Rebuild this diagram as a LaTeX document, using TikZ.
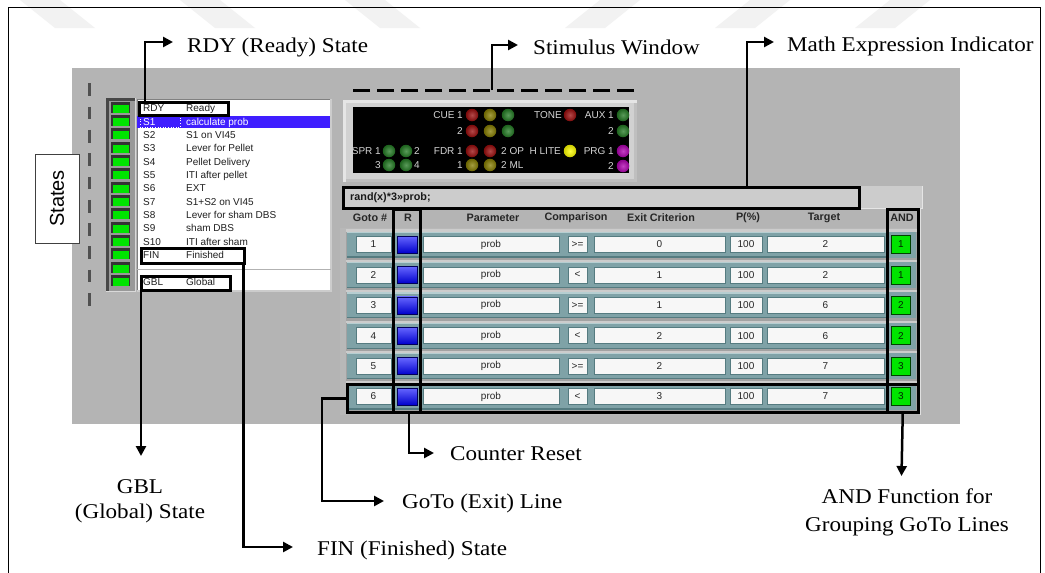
\documentclass[tikz,border=0pt]{standalone}
\usepackage{fontspec}
\setmainfont{Liberation Serif}
\newfontfamily\uifont{Liberation Sans}
\usepackage{graphicx}
\usetikzlibrary{arrows.meta}
\definecolor{panelgray}{HTML}{B4B4B4}
\definecolor{bandgray}{HTML}{A2A2A2}
\definecolor{tealrow}{HTML}{7FA2A7}
\definecolor{tealdark}{HTML}{557B80}
\definecolor{teallight}{HTML}{B6CED1}
\definecolor{selblue}{HTML}{3F1EFF}
\definecolor{ledgreen}{HTML}{00E400}
\definecolor{stimtext}{HTML}{D4D4D4}
\definecolor{dashgray}{HTML}{505050}
\definecolor{ledred}{HTML}{9A0C0C}
\definecolor{ledolive}{HTML}{857C00}
\definecolor{leddkgreen}{HTML}{237A23}
\definecolor{ledmag}{HTML}{B000B0}
\definecolor{ledyellow}{HTML}{FFFF00}
\newcommand\lbltext[1]{\scalebox{1.1}[1]{#1}}
\tikzset{
  conn/.style={line width=2.5pt, -{Triangle[length=10pt,width=10pt]}},
  abox/.style={draw=black, line width=2.5pt, inner sep=0pt, fill=none},
  lbl/.style={font=\fontsize{21}{25}\selectfont, inner sep=0pt},
  ui/.style={font=\uifont\fontsize{10}{12}\selectfont, inner sep=0pt, text=black!88},
  uib/.style={font=\uifont\bfseries\fontsize{10.8}{13}\selectfont, inner sep=0pt, text=black!85},
  stimtxt/.style={font=\uifont\fontsize{10}{12}\selectfont, inner sep=0pt, text=stimtext},
  field/.style={draw=tealdark, line width=0.8pt, fill=white!97!black, inner sep=0pt,
    minimum height=16pt, font=\uifont\fontsize{10}{12}\selectfont, text=black!85},
  rled/.style={draw=blue!35!black, line width=0.6pt, shade, top color=blue!60!white,
    bottom color=blue!80!black, minimum width=20pt, minimum height=17pt, inner sep=0pt},
  andled/.style={draw=green!25!black, line width=0.6pt, fill=ledgreen, minimum width=19pt,
    minimum height=18pt, inner sep=0pt, font=\uifont\fontsize{10}{12}\selectfont, text=green!15!black},
  stimled/.style={circle, inner sep=0pt, minimum size=12.5pt, shade, shading=radial,
    inner color=#1!75!white, outer color=#1!80!black},
  wm/.style={fill=black!5}
}
\begin{document}
\begin{tikzpicture}[x=1pt,y=-1pt]
\useasboundingbox (0,0) rectangle (1045,573);
\fill[white] (0,0) rectangle (1045,573);
% faint watermark
\fill[wm] (20,0) -- (60,0) -- (95,28) -- (55,28) -- cycle;
\fill[wm] (180,0) -- (220,0) -- (255,28) -- (215,28) -- cycle;
\fill[wm] (345,0) -- (385,0) -- (420,28) -- (380,28) -- cycle;
\fill[wm] (600,0) -- (640,0) -- (605,28) -- (565,28) -- cycle;
\fill[wm] (750,0) -- (790,0) -- (755,28) -- (715,28) -- cycle;
\fill[wm] (890,0) -- (930,0) -- (895,28) -- (855,28) -- cycle;
% frame
\draw[line width=1pt] (8,573) -- (8,7) -- (1040,7) -- (1040,573);
% panel
\fill[panelgray] (72,68) rectangle (960,424);
% dashed state line
\draw[dashgray, line width=3pt, dash pattern=on 12.7pt off 10.6pt] (89,83.3) -- (89,307);
% States box
\node[draw=black!75, line width=0.8pt, fill=white, rotate=90, minimum width=89pt,
  minimum height=44pt, inner sep=0pt, font=\uifont\fontsize{20}{24}\selectfont] (states) at (57,198.5) {States};
% LED column
\fill[black!72] (106,98) rectangle (135,291);
\fill[black!40] (109,101) rectangle (135,291);
\draw[black!15, line width=1pt] (106,291) -- (135,291) -- (135,98);
\foreach \k in {0,...,13}{
  \pgfmathsetmacro\ly{108.3+13.33*\k}
  \fill[black!80] (111,{\ly-6.5}) rectangle (130,{\ly+4.5});
  \fill[ledgreen] (113,{\ly-3.5}) rectangle (129,{\ly+4.5});
}
% list box
\fill[white] (137,99) rectangle (331,291);
\draw[black!50, line width=1pt] (137,291) -- (137,99) -- (331,99);
\draw[black!20, line width=1.5pt] (331,99) -- (331,291) -- (137,291);
\draw[black!30, line width=1pt] (137,269) -- (331,269);
\fill[selblue] (137,115.5) rectangle (330,127.9);
\draw[white, dotted, line width=0.6pt] (140,116.2) rectangle (180,127.2);
\foreach \k/\cd/\nm in {0/RDY/Ready, 2/S2/S1 on VI45, 3/S3/Lever for Pellet, 4/S4/Pellet Delivery,
  5/S5/ITI after pellet, 6/S6/EXT, 7/S7/S1+S2 on VI45, 8/S8/Lever for sham DBS, 9/S9/sham DBS,
  10/S10/ITI after sham, 11/FIN/Finished, 13/GBL/Global}{
  \node[ui, anchor=base west] (code\k) at (143,{108.3+13.33*\k+3.6}) {\cd};
  \node[ui, anchor=base west] (name\k) at (186,{108.3+13.33*\k+3.6}) {\nm};
}
\node[ui, anchor=base west, text=white] (code1) at (143,{121.6+3.6}) {S1};
\node[ui, anchor=base west, text=white] (name1) at (186,{121.6+3.6}) {calculate prob};
% stimulus window
\fill[black!10] (343,100) rectangle (637,182);
\fill[black!25] (346,103) rectangle (637,182);
\fill[black!18] (346,103) rectangle (634,179);
\fill[black] (353,107) rectangle (629,173);
\foreach \nm/\x/\y/\col in {cuea/472/115/ledred, cueb/490/115/ledolive, cuec/508/115/leddkgreen,
  cued/472/131/ledred, cuee/490/131/ledolive, cuef/508/131/leddkgreen, tone/570/115/ledred,
  auxa/623/115/leddkgreen, auxb/623/131/leddkgreen, spra/389/151/leddkgreen, sprb/406/151/leddkgreen,
  sprc/389/165/leddkgreen, sprd/406/165/leddkgreen, fdra/472/151/ledred, fdrb/490/151/ledred,
  fdrc/472/165/ledolive, fdrd/490/165/ledolive, hlite/570/151/ledyellow, prga/623/151/ledmag,
  prgb/623/166/ledmag}{
  \node[stimled=\col] (\nm) at (\x,\y) {};
}
\foreach \nm/\x/\y/\an/\t in {tcuea/463/115/east/CUE 1, tcueb/463/131/east/2, ttone/562/115/east/TONE,
  tauxa/614/115/east/AUX 1, tauxb/614/131/east/2, tspra/381/151/east/SPR 1, tsprb/414/151/west/2,
  tsprc/381/165/east/3, tsprd/414/165/west/4, tfdra/463/151/east/FDR 1, tfdrb/501/151/west/2 OP,
  tfdrc/463/165/east/1, tfdrd/501/165/west/2 ML, thlite/561/151/east/H LITE, tprga/614/151/east/PRG 1,
  tprgb/614/166/east/2}{
  \node[stimtxt, anchor=base \an] (\nm) at (\x,{\y+3.6}) {\t};
}
% math expression field
\fill[black!20] (342,186) rectangle (922,208);
\draw[black!10, line width=1pt] (342,208) -- (922,208) -- (922,186);
\node[uib, anchor=west, text=black!90] (mathtxt) at (350,198) {rand(x)*3»prob;};
% header
\foreach \nm/\x/\t in {hgoto/370/Goto \#, hr/408/R, hparam/493/Parameter, hcomp/576/Comparison,
  hexit/661/Exit Criterion, hpct/748/P(\%), htarget/824/Target, hand/902/AND}{
  \node[uib] (\nm) at (\x,218) {\t};
}
% table rows
\fill[black!28] (340,228) rectangle (920,415);
\fill[bandgray] (346,229) rectangle (887,412);
\fill[bandgray] (887,229) rectangle (917,412);
\draw[black!12, line width=1pt] (920,208) -- (920,415);
\foreach \i/\cm/\ex/\tg/\an in {1/{>=}/0/2/1,2/{<}/1/2/1,3/{>=}/1/6/2,4/{<}/2/6/2,5/{>=}/2/7/3,6/{<}/3/7/3}{
  \pgfmathsetmacro\ry{244.5+(\i-1)*30.4}
  \fill[black!20] (346,{\ry-15.2}) rectangle (917,{\ry-13});
  \fill[tealrow] (347,{\ry-13}) rectangle (886,{\ry+13});
  \draw[teallight, line width=1.2pt] (347,{\ry-12.4}) -- (886,{\ry-12.4});
  \draw[tealdark, line width=1.2pt] (347,{\ry+12.4}) -- (886,{\ry+12.4});
  \fill[tealrow] (888,{\ry-13}) rectangle (916,{\ry+13});
  \node[field, minimum width=35pt] (go\i) at (373.5,\ry) {\i};
  \node[rled] (rr\i) at (407,\ry) {};
  \node[field, minimum width=136pt] (par\i) at (491,\ry) {prob};
  \node[field, minimum width=19pt] (cmp\i) at (577.5,\ry) {\cm};
  \node[field, minimum width=131pt] (ex\i) at (659.5,\ry) {\ex};
  \node[field, minimum width=32pt] (pc\i) at (746,\ry) {100};
  \node[field, minimum width=117pt] (tg\i) at (825.5,\ry) {\tg};
  \node[andled] (an\i) at (901,\ry) {\an};
}
% annotation boxes
\node[abox, anchor=north west, minimum width=89pt, minimum height=13pt] (rdybox) at (138,101) {};
\node[abox, anchor=north west, minimum width=103pt, minimum height=15pt] (finbox) at (140,247) {};
\node[abox, anchor=north west, minimum width=89pt, minimum height=14pt] (gblbox) at (140,275) {};
\node[abox, anchor=north west, minimum width=516pt, minimum height=21pt] (mathbox) at (342,186) {};
\node[abox, anchor=north west, minimum width=27pt, minimum height=203pt] (rbox) at (392,208) {};
\node[abox, anchor=north west, minimum width=31pt, minimum height=203pt] (andbox) at (886,208) {};
\node[abox, anchor=north west, minimum width=571pt, minimum height=28pt] (gotobox) at (346,383) {};
\draw[line width=3pt, dash pattern=on 17pt off 7pt] (634,90) -- (348,90);
\coordinate (stimc) at (492,90);
% labels
\node[lbl, anchor=base west] (rdylbl) at (187,52) {\lbltext{RDY (Ready) State}};
\node[lbl, anchor=base west] (stimlbl) at (533,54) {\lbltext{Stimulus Window}};
\node[lbl, anchor=base west] (mathlbl) at (787,51) {\lbltext{Math Expression Indicator}};
\node[lbl, anchor=base west] (crlbl) at (450,460) {\lbltext{Counter Reset}};
\node[lbl, anchor=base west] (gotolbl) at (402,508) {\lbltext{GoTo (Exit) Line}};
\node[lbl, anchor=base west] (finlbl) at (317,555) {\lbltext{FIN (Finished) State}};
\node[lbl, anchor=base] (gbllbl) at (140,493) {\lbltext{\begin{tabular}[t]{@{}c@{}}GBL\\(Global) State\end{tabular}}};
\node[lbl, anchor=base] (andlbl) at (907,503) {\lbltext{\begin{tabular}[t]{@{}c@{}}AND Function for\\[3pt]Grouping GoTo Lines\end{tabular}}};
% connectors
\coordinate (rdytip) at (173,42);
\coordinate (stimtip) at (518,45);
\coordinate (mathx) at (747,42);
\coordinate (mathtip) at (774,42);
\coordinate (gbltip) at (141,456);
\coordinate (fintip) at (293,547);
\coordinate (gotocorner) at (322,501);
\coordinate (gototip) at (384,501);
\coordinate (rtip) at (434,453);
\coordinate (andtip) at (901.5,476);
\draw[conn] ([xshift=7pt]rdybox.north west) |- (rdytip);
\draw[conn] (stimc) |- (stimtip);
\draw[conn] (mathbox.north -| mathx) |- (mathtip);
\draw[conn] ([xshift=1pt]gblbox.south west) -- (gbltip);
\draw[conn] ([xshift=-2pt]finbox.south east) |- (fintip);
\draw[conn] (gotobox.west) -| (gotocorner) -- (gototip);
\draw[conn] ([xshift=2pt]rbox.south) |- (rtip);
\draw[conn] (andbox.south) -- (andtip);
\end{tikzpicture}
\end{document}
